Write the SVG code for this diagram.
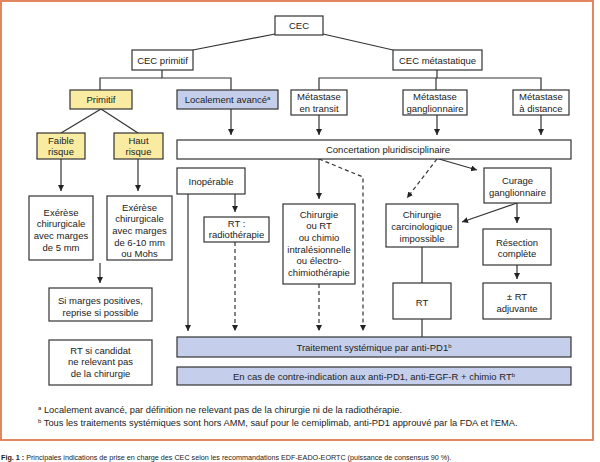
<svg xmlns="http://www.w3.org/2000/svg" width="600" height="462" viewBox="0 0 600 462">
<defs>
<marker id="ah" markerUnits="userSpaceOnUse" markerWidth="7" markerHeight="7" refX="6" refY="3" orient="auto">
<path d="M0,0 L6,3 L0,6 z" fill="#222"/>
</marker>
<style>
.bx{fill:#fff;stroke:#333;stroke-width:1.2}
.ye{fill:#f9eca2;stroke:#333;stroke-width:1.2}
.bl{fill:#c5cfeb;stroke:#333;stroke-width:1.2}
text{font-family:"Liberation Sans",Arial,sans-serif;font-size:9.5px;fill:#222;text-anchor:middle}
.ln{stroke:#333;stroke-width:1.2;fill:none}
.ar{stroke:#333;stroke-width:1.2;fill:none;marker-end:url(#ah)}
.da{stroke:#333;stroke-width:1.2;fill:none;stroke-dasharray:4,3;marker-end:url(#ah)}
.sup{font-size:6px}
.fn{text-anchor:start;font-size:9.3px}
.cap{text-anchor:start;font-size:7.2px}
</style>
</defs>
<rect x="1" y="1" width="592" height="439" fill="#fff" stroke="#e07a4f" stroke-width="1.8"/>

<g id="connectors">
<line class="ln" x1="275" y1="34" x2="193" y2="50"/>
<line class="ln" x1="323" y1="34" x2="393" y2="50"/>
<polyline class="ln" points="162,70 162,78"/>
<polyline class="ln" points="100,90 100,78 231,78 231,90"/>
<polyline class="ln" points="437,70 437,78"/>
<polyline class="ln" points="319,90 319,78 541,78 541,90"/>
<line class="ln" x1="436" y1="78" x2="436" y2="90"/>
<line class="ln" x1="101" y1="109" x2="61" y2="133"/>
<line class="ln" x1="101" y1="109" x2="138" y2="133"/>
<line class="ar" x1="231" y1="109" x2="231" y2="135"/>
<line class="ar" x1="319" y1="115" x2="319" y2="135"/>
<line class="ar" x1="437" y1="115" x2="437" y2="135"/>
<line class="ar" x1="541" y1="115" x2="541" y2="135"/>
<line class="ar" x1="61" y1="159" x2="61" y2="191"/>
<line class="ar" x1="138" y1="159" x2="138" y2="191"/>
<line class="ar" x1="100" y1="263" x2="100" y2="283"/>
<line class="ar" x1="188" y1="194" x2="188" y2="331"/>
<line class="ar" x1="235" y1="194" x2="235" y2="212"/>
<line class="da" x1="235" y1="242" x2="235" y2="331"/>
<line class="ar" x1="319" y1="159" x2="319" y2="199"/>
<line class="da" x1="319" y1="284" x2="319" y2="331"/>
<polyline class="da" points="319,159 363,177 363,331"/>
<line class="da" x1="437" y1="159" x2="407" y2="198"/>
<line class="ar" x1="439" y1="159" x2="477" y2="170"/>
<line class="ar" x1="517" y1="203" x2="462" y2="222"/>
<line class="ar" x1="517" y1="203" x2="517" y2="223"/>
<line class="ar" x1="517" y1="265" x2="517" y2="279"/>
<line class="ln" x1="422" y1="247" x2="422" y2="283"/>
<line class="ln" x1="422" y1="319" x2="422" y2="337"/>
</g>

<g id="cec"><rect class="bx" x="275" y="16" width="48" height="19"/><text x="299" y="29">CEC</text></g>
<g id="cec-primitif"><rect class="bx" x="132" y="50" width="61" height="20"/><text x="162.5" y="63.5">CEC primitif</text></g>
<g id="cec-metastatique"><rect class="bx" x="393" y="50" width="89" height="20"/><text x="437.5" y="63.5">CEC métastatique</text></g>
<g id="primitif"><rect class="ye" x="70" y="90" width="62" height="19"/><text x="101" y="103">Primitif</text></g>
<g id="localement-avance"><rect class="bl" x="177" y="90" width="101" height="19"/><text x="227.5" y="103">Localement avancé<tspan class="sup" dy="-3">a</tspan></text></g>
<g id="met-transit"><rect class="bx" x="291" y="90" width="56" height="25"/><text x="319" y="100">Métastase</text><text x="319" y="111.5">en transit</text></g>
<g id="met-gangl"><rect class="bx" x="403" y="90" width="64" height="25"/><text x="435" y="100">Métastase</text><text x="435" y="111.5">ganglionnaire</text></g>
<g id="met-distance"><rect class="bx" x="513" y="90" width="56" height="25"/><text x="541" y="100">Métastase</text><text x="541" y="111.5">à distance</text></g>
<g id="concertation"><rect class="bx" x="177" y="140" width="394" height="19"/><text x="388" y="153">Concertation pluridisciplinaire</text></g>
<g id="faible"><rect class="ye" x="37" y="133" width="48" height="26"/><text x="61" y="143.5">Faible</text><text x="61" y="155">risque</text></g>
<g id="haut"><rect class="ye" x="114" y="133" width="49" height="26"/><text x="138.5" y="143.5">Haut</text><text x="138.5" y="155">risque</text></g>
<g id="exerese1"><rect class="bx" x="29" y="196" width="64" height="64"/><text x="61" y="215.5">Exérèse</text><text x="61" y="227.3">chirurgicale</text><text x="61" y="239">avec marges</text><text x="61" y="250.7">de 5 mm</text></g>
<g id="exerese2"><rect class="bx" x="107" y="196" width="65" height="64"/><text x="139.5" y="210.5">Exérèse</text><text x="139.5" y="222.2">chirurgicale</text><text x="139.5" y="233.9">avec marges</text><text x="139.5" y="245.6">de 6-10 mm</text><text x="139.5" y="257.3">ou Mohs</text></g>
<g id="si-marges"><rect class="bx" x="49" y="288" width="103" height="33"/><text x="100.5" y="304">Si marges positives,</text><text x="100.5" y="315.7">reprise si possible</text></g>
<g id="rt-candidat"><rect class="bx" x="49" y="340" width="103" height="45"/><text x="100.5" y="353.5">RT si candidat</text><text x="100.5" y="365.2">ne relevant pas</text><text x="100.5" y="376.9">de la chirurgie</text></g>
<g id="inoperable"><rect class="bx" x="177" y="168" width="68" height="26"/><text x="211" y="184.5">Inopérable</text></g>
<g id="rt-radio"><rect class="bx" x="204" y="217" width="65" height="25"/><text x="236.5" y="226.5">RT :</text><text x="236.5" y="238.2">radiothérapie</text></g>
<g id="chirurgie-rt"><rect class="bx" x="283" y="204" width="72" height="80"/><text x="319" y="217.5">Chirurgie</text><text x="319" y="229.2">ou RT</text><text x="319" y="240.9">ou chimio</text><text x="319" y="252.6">intralésionnelle</text><text x="319" y="264.3">ou électro-</text><text x="319" y="276">chimiothérapie</text></g>
<g id="curage"><rect class="bx" x="484" y="168" width="67" height="35"/><text x="517.5" y="184">Curage</text><text x="517.5" y="195.7">ganglionnaire</text></g>
<g id="chir-carcino"><rect class="bx" x="386" y="204" width="72" height="43"/><text x="422" y="218.3">Chirurgie</text><text x="422" y="230">carcinologique</text><text x="422" y="241.7">impossible</text></g>
<g id="resection"><rect class="bx" x="483" y="229" width="68" height="36"/><text x="517" y="245.5">Résection</text><text x="517" y="257.2">complète</text></g>
<g id="rt-adjuvante"><rect class="bx" x="483" y="283" width="68" height="36"/><text x="517" y="300">± RT</text><text x="517" y="311.7">adjuvante</text></g>
<g id="rt"><rect class="bx" x="393" y="283" width="58" height="36"/><text x="422" y="306">RT</text></g>
<g id="traitement"><rect class="bl" x="177" y="337" width="394" height="20"/><text x="374" y="350.5">Traitement systémique par anti-PD1<tspan class="sup" dy="-3">b</tspan></text></g>
<g id="contre-indication"><rect class="bl" x="177" y="367" width="394" height="18"/><text x="374" y="379.5">En cas de contre-indication aux anti-PD1, anti-EGF-R + chimio RT<tspan class="sup" dy="-3">b</tspan></text></g>

<text class="fn" x="38" y="413"><tspan class="sup" dy="-3">a</tspan><tspan dy="3"> Localement avancé, par définition ne relevant pas de la chirurgie ni de la radiothérapie.</tspan></text>
<text class="fn" x="38" y="425.5"><tspan class="sup" dy="-3">b</tspan><tspan dy="3"> Tous les traitements systémiques sont hors AMM, sauf pour le cemiplimab, anti-PD1 approuvé par la FDA et l’EMA.</tspan></text>
<text class="cap" x="1" y="460"><tspan font-weight="bold">Fig. 1 :</tspan> Principales indications de prise en charge des CEC selon les recommandations EDF-EADO-EORTC (puissance de consensus 90 %).</text>
</svg>
